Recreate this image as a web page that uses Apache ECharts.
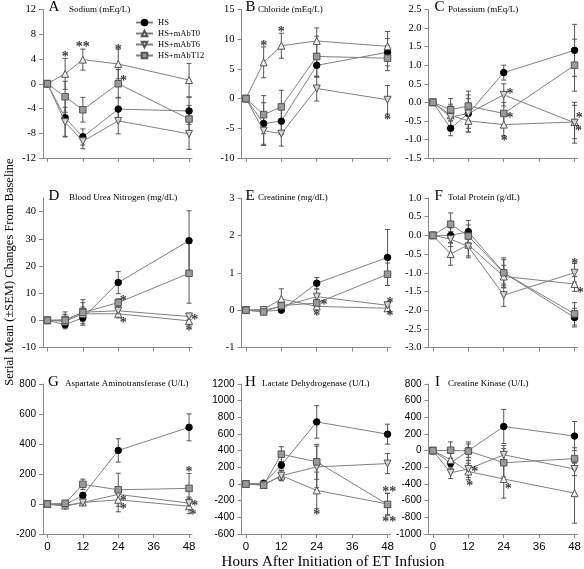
<!DOCTYPE html>
<html><head><meta charset="utf-8">
<script src="https://cdn.jsdelivr.net/npm/echarts@6/dist/echarts.min.js"></script>
<style>html,body{margin:0;padding:0;background:#fff}#c{width:584px;height:569px}</style>
</head><body><div id="c"></div>
<script>
const hours = [0, 6, 12, 24, 48];
const groupNames = ['HS', 'HS+mAbT0', 'HS+mAbT6', 'HS+mAbT12'];
const xTickValues = [0, 12, 24, 36, 48];

// A Sodium
const sodiumMean = [[0,-5.5,-8.6,-4.1,-4.4],[0,1.6,3.9,3.2,0.6],[0,-6.2,-9.3,-6.0,-8.1],[0,-2.1,-4.2,0.0,-5.7]];
const sodiumSem  = [[0,3.0,1.3,1.9,2.2],[0,2.5,1.7,2.4,2.7],[0,2.4,1.2,2.1,2.5],[0,2.5,2.0,2.3,2.2]];
const sodiumStars = [[6,4.8,1],[12,6.3,2],[24,5.9,1],[25.8,0.8,1]];
// B Chloride
const chlorideMean = [[0,-4.2,-3.8,5.6,7.8],[0,6.1,8.9,9.7,8.8],[0,-5.4,-5.9,1.7,-0.2],[0,-2.7,-1.4,7.1,6.8]];
const chlorideSem  = [[0,3.5,2.2,2.0,2.3],[0,2.6,2.1,2.2,2.5],[0,2.5,2.1,2.1,2.4],[0,3.2,2.8,3.4,2.1]];
const chlorideStars = [[6,9.3,1],[12,11.6,1],[48,-3.1,1]];
// C Potassium
const potassiumMean = [[0,-0.7,-0.3,0.8,1.4],[0,-0.35,-0.5,-0.6,-0.53],[0,-0.4,-0.3,0.2,-0.55],[0,-0.2,-0.1,-0.3,1.0]];
const potassiumSem  = [[0,0.2,0.5,0.2,0.7],[0,0.3,0.3,0.3,0.45],[0,0.3,0.4,0.3,0.55],[0,0.3,0.4,0.3,0.7]];
const potassiumStars = [[26.1,0.29,1],[26.1,-0.35,1],[24.2,-0.98,1],[49.6,-0.35,1],[49.3,-0.69,1]];
// D Blood Urea Nitrogen
const bunMean = [[0,-1.6,0.9,13.9,29.3],[0,-0.4,2.4,2.4,-0.2],[0,0.2,3.0,3.5,1.4],[0,0.0,2.9,6.5,17.3]];
const bunSem  = [[0,1.0,2.2,4.1,11.0],[0,1.5,2.5,1.5,1.5],[0,2.0,3.5,1.5,1.2],[0,3.1,4.7,1.4,11.0]];
const bunStars = [[25.7,8.2,1],[25.7,0,1],[49.9,1.2,1],[48,-2.9,1]];
// E Creatinine
const creatinineMean = [[0,-0.03,0.0,0.72,1.41],[0,0.02,0.3,0.1,0.05],[0,0.0,0.1,0.36,0.13],[0,-0.05,0.12,0.19,0.96]];
const creatinineSem  = [[0,0.03,0.05,0.15,0.75],[0,0.03,0.27,0.1,0.05],[0,0.03,0.1,0.2,0.05],[0,0.03,0.05,0.1,0.3]];
const creatinineStars = [[26.5,0.2,1],[24,-0.1,1],[48.8,0.26,1],[48.8,-0.1,1]];
// F Total Protein
const proteinMean = [[0,0.0,0.1,-1.0,-2.2],[0,-0.5,-0.25,-1.1,-1.3],[0,-0.1,-0.3,-1.6,-1.0],[0,0.3,-0.02,-1.0,-2.1]];
const proteinSem  = [[0,0.2,0.3,0.4,0.25],[0,0.3,0.3,0.3,0.2],[0,0.2,0.3,0.3,0.25],[0,0.3,0.3,0.35,0.3]];
const proteinStars = [[48.1,-0.7,1],[49.9,-1.47,1]];
// G Aspartate Aminotransferase
const astMean = [[0,-5,57,357,511],[0,-10,10,28,-15],[0,-15,10,64,6],[0,5,131,95,104]];
const astSem  = [[0,10,20,78,90],[0,8,15,80,50],[0,8,20,40,40],[0,10,35,110,100]];
const astStars = [[48,231,1],[25.7,40,1],[25.7,-16,1],[49.9,2,1],[49.3,-54,1]];
// H Lactate Dehydrogenase
const ldhMean = [[0,10,226,745,598],[0,-10,100,-77,-240],[0,-10,100,205,245],[0,-15,358,266,-245]];
const ldhSem  = [[0,15,45,195,120],[0,15,60,220,130],[0,15,60,250,120],[0,15,90,210,130]];
const ldhStars = [[24,-340,1],[48.6,-65,2],[48.6,-428,2]];
// I Creatine Kinase
const ckMean = [[0,-150,0,290,175],[0,-110,-250,-340,-510],[0,-265,-220,-50,-220],[0,5,-5,-145,-95]];
const ckSem  = [[0,60,80,205,175],[0,80,100,230,360],[0,70,100,110,80],[0,100,110,170,130]];
const ckStars = [[14.2,-225,1],[12.5,-393,1],[25.5,-425,1]];

const panels = [
  {letter:'A', title:'Sodium (mEq/L)', mean:sodiumMean, sem:sodiumSem, stars:sodiumStars, min:-12, max:12, interval:4, dec:0, row:0, col:0, lx:48.5, sx:69},
  {letter:'B', title:'Chloride (mEq/L)', mean:chlorideMean, sem:chlorideSem, stars:chlorideStars, min:-10, max:15, interval:5, dec:0, row:0, col:1, lx:245.5, sx:258},
  {letter:'C', title:'Potassium (mEq/L)', mean:potassiumMean, sem:potassiumSem, stars:potassiumStars, min:-1.5, max:2.5, interval:0.5, dec:1, row:0, col:2, lx:434.5, sx:448},
  {letter:'D', title:'Blood Urea Nitrogen (mg/dL)', mean:bunMean, sem:bunSem, stars:bunStars, min:-10, max:45, interval:10, dec:0, row:1, col:0, lx:48.5, sx:69, custom:[-10,0,10,20,30,40]},
  {letter:'E', title:'Creatinine (mg/dL)', mean:creatinineMean, sem:creatinineSem, stars:creatinineStars, min:-1, max:3, interval:1, dec:0, row:1, col:1, lx:245.5, sx:258},
  {letter:'F', title:'Total Protein (g/dL)', mean:proteinMean, sem:proteinSem, stars:proteinStars, min:-3, max:1, interval:0.5, dec:1, row:1, col:2, lx:434.5, sx:448},
  {letter:'G', title:'Aspartate Aminotransferase (U/L)', mean:astMean, sem:astSem, stars:astStars, min:-200, max:800, interval:200, dec:0, row:2, col:0, lx:48, sx:65},
  {letter:'H', title:'Lactate Dehydrogenase (U/L)', mean:ldhMean, sem:ldhSem, stars:ldhStars, min:-600, max:1200, interval:200, dec:0, row:2, col:1, lx:245, sx:262},
  {letter:'I', title:'Creatine Kinase (U/L)', mean:ckMean, sem:ckSem, stars:ckStars, min:-1000, max:800, interval:200, dec:0, row:2, col:2, lx:435, sx:448}
];

const rowTop = [9.5, 198, 384], rowH = [148.5, 149.5, 150];
const colLeft = [43, 241.5, 428.5], colW = 149;
const SERIF = '"Liberation Serif", "Times New Roman", serif';
const SANS = '"Liberation Sans", Arial, sans-serif';
const AX = '#888';

const markStyles = [
  {symbol:'circle', size:6.5, color:'#000', border:'#000', rotate:0},
  {symbol:'triangle', size:7, color:'#f2f2f2', border:'#555', rotate:0},
  {symbol:'triangle', size:7, color:'#d6d6d6', border:'#555', rotate:180},
  {symbol:'rect', size:6.5, color:'#9a9a9a', border:'#555', rotate:0}
];

function renderErr(params, api) {
  const x = api.value(0), m = api.value(1), s = api.value(2);
  if (!s) return;
  const t = api.coord([x, m + s]), b = api.coord([x, m - s]);
  const w = 2.5, st = {stroke:'#555', lineWidth:1};
  return {type:'group', children:[
    {type:'line', shape:{x1:t[0], y1:t[1], x2:b[0], y2:b[1]}, style:st},
    {type:'line', shape:{x1:t[0]-w, y1:t[1], x2:t[0]+w, y2:t[1]}, style:st},
    {type:'line', shape:{x1:b[0]-w, y1:b[1], x2:b[0]+w, y2:b[1]}, style:st}
  ]};
}

const grid = [], xAxis = [], yAxis = [], series = [], graphic = [];
panels.forEach((p, i) => {
  const top = rowTop[p.row], left = colLeft[p.col];
  grid.push({left:left, top:top, width:colW, height:rowH[p.row], containLabel:false, outerBoundsMode:'none'});
  xAxis.push({gridIndex:i, type:'value', min:-1.5, max:49,
    axisLine:{show:true, onZero:false, lineStyle:{color:AX, width:1}},
    axisTick:{show:true, customValues:xTickValues, length:4, lineStyle:{color:AX}},
    axisLabel:{show:p.row===2, customValues:xTickValues, fontFamily:SANS, fontSize:11.5, color:'#000', margin:7},
    splitLine:{show:false}});
  const yl = {fontFamily: p.row===2 ? SANS : SERIF, fontSize: p.row===2 ? 10 : 10.5, color:'#000', margin:7,
    formatter: v => p.dec ? v.toFixed(p.dec) : String(Math.round(v))};
  const yt = {show:true, length:4, lineStyle:{color:AX}};
  if (p.custom) { yl.customValues = p.custom; yt.customValues = p.custom; }
  yAxis.push({gridIndex:i, type:'value', min:p.min, max:p.max, interval:p.custom ? undefined : p.interval,
    axisLine:{show:true, onZero:false, lineStyle:{color:AX, width:1}},
    axisTick:yt, axisLabel:yl, splitLine:{show:false}});
  p.mean.forEach((vals, k) => {
    const ms = markStyles[k];
    series.push({type:'line', name:groupNames[k], xAxisIndex:i, yAxisIndex:i,
      data: hours.map((h, j) => [h, vals[j]]),
      symbol:ms.symbol, symbolSize:ms.size, symbolRotate:ms.rotate,
      itemStyle:{color:ms.color, borderColor:ms.border, borderWidth:1},
      lineStyle:{color:'#808080', width:1}, z:3 + k * 0.01, animation:false});
  });
  const errData = [];
  p.mean.forEach((vals, k) => hours.forEach((h, j) => errData.push([h, vals[j], p.sem[k][j]])));
  series.push({type:'custom', name:'err' + i, xAxisIndex:i, yAxisIndex:i, data:errData,
    encode:{x:0, y:1}, renderItem:renderErr, z:2, silent:true, animation:false, clip:false});
  series.push({type:'scatter', name:'sig' + i, xAxisIndex:i, yAxisIndex:i, data:p.stars,
    symbolSize:1, itemStyle:{color:'rgba(0,0,0,0)'}, clip:false, silent:true, z:5, animation:false,
    label:{show:true, position:'inside', formatter: q => '*'.repeat(q.value[2]),
      fontFamily:SERIF, fontSize:14, fontWeight:'bold', color:'#000', offset:[0, 3]}});
  graphic.push({type:'text', x:p.lx, y:top + 5.5, silent:true,
    style:{text:p.letter, font:'15px ' + SERIF, fill:'#000', textAlign:'left', textVerticalAlign:'bottom', align:'left', verticalAlign:'bottom'}});
  graphic.push({type:'text', x:p.sx, y:top + 4.5, silent:true,
    style:{text:p.title, font:'9px ' + SERIF, fill:'#000', textAlign:'left', textVerticalAlign:'bottom', align:'left', verticalAlign:'bottom'}});
});

graphic.push({type:'text', x:10, y:272, rotation:Math.PI / 2, silent:true,
  style:{text:'Serial Mean (\u00B1SEM) Changes From Baseline', font:'12.5px ' + SERIF, fill:'#000',
    textAlign:'center', textVerticalAlign:'middle', align:'center', verticalAlign:'middle'}});
graphic.push({type:'text', x:333, y:562, silent:true,
  style:{text:'Hours After Initiation of ET Infusion', font:'15px ' + SERIF, fill:'#000',
    textAlign:'center', textVerticalAlign:'middle', align:'center', verticalAlign:'middle'}});

const chart = echarts.init(document.getElementById('c'), null, {renderer:'canvas'});
chart.setOption({
  animation:false,
  backgroundColor:'#fff',
  legend:{data:groupNames, orient:'vertical', left:130, top:13, itemWidth:17, itemHeight:7, itemGap:2,
    textStyle:{fontFamily:SERIF, fontSize:8.5, color:'#000'}, selectedMode:false},
  grid, xAxis, yAxis, series, graphic
});
</script></body></html>
